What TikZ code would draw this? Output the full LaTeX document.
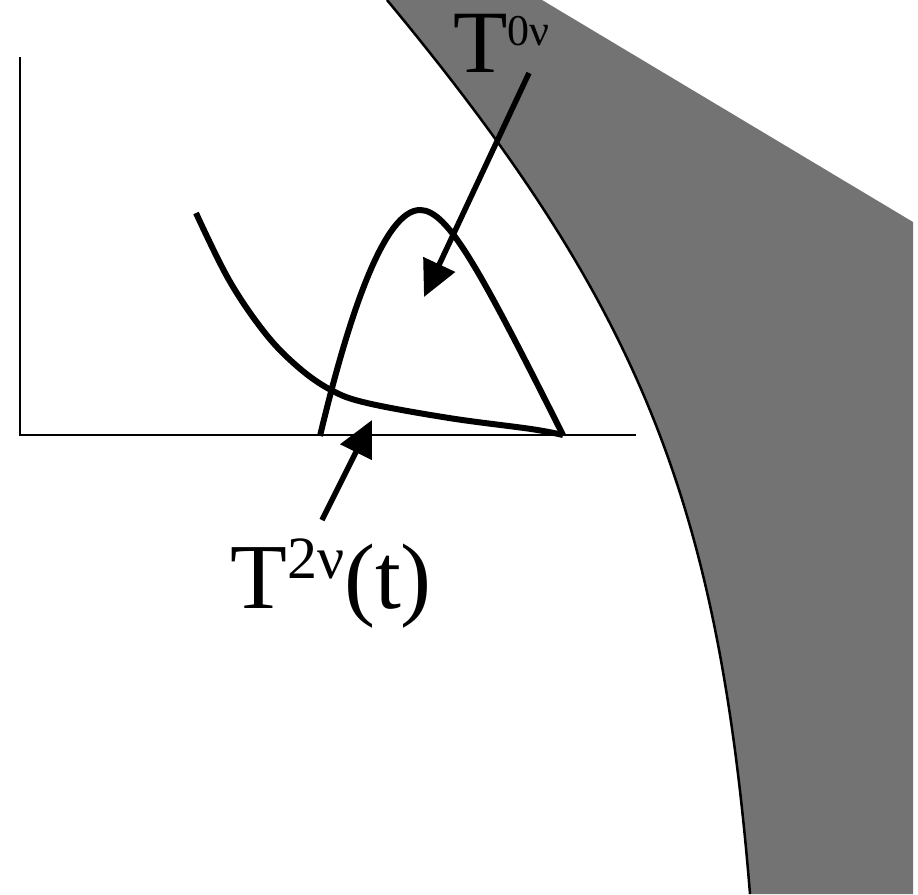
\documentclass[tikz,border=0pt]{standalone}
\usepackage{fontspec}
\setmainfont{Liberation Serif}
\usetikzlibrary{arrows.meta}
\tikzset{
  curve/.style={line width=6pt, line join=round},
  axis/.style={line width=2pt},
  pointer/.style={line width=5.5pt, -{Triangle[length=36pt,width=34pt]}},
  lbl/.style={anchor=base west, inner sep=0pt}
}
\begin{document}
\begin{tikzpicture}[x=1pt,y=-1pt]
\useasboundingbox (0,0) rectangle (918,894);
% gray band
\fill[black!55] (387,0) .. controls (640,305) and (718,500) .. (750,894)
  -- (913,894) -- (913,222) -- (542,0) -- cycle;
\draw[line width=2.5pt] (387,0) .. controls (640,305) and (718,500) .. (750,894);
% axes
\coordinate (otop) at (20,57);
\coordinate (orig) at (20,435);
\coordinate (xend) at (636,435);
\draw[axis] (otop) -- (orig) -- (xend);
% decaying spectrum
\draw[curve] plot[smooth, tension=0.6] coordinates {(196,213) (229,280) (265,333) (298,367) (331,390) (367,403) (449,418) (531,429) (563,435)};
% peak spectrum
\draw[curve] (320,436) .. controls (350,310) and (385,210) .. (420,210)
  .. controls (448,210) and (480,270) .. (563,435);
% labels
\node[lbl, font=\fontsize{89}{89}\selectfont] (lab0) at (453,72) {T\raisebox{27pt}{\fontsize{44}{44}\selectfont 0ν}};
\node[lbl, font=\fontsize{93}{93}\selectfont] (lab2) at (230,608) {T\raisebox{30pt}{\fontsize{60}{60}\selectfont 2ν}(t)};
% arrows
\coordinate (t0) at (529,73);
\coordinate (h0) at (424,297);
\coordinate (t2) at (322,520);
\coordinate (h2) at (372,420);
\draw[pointer] (t0) -- (h0);
\draw[pointer] (t2) -- (h2);
\end{tikzpicture}
\end{document}
